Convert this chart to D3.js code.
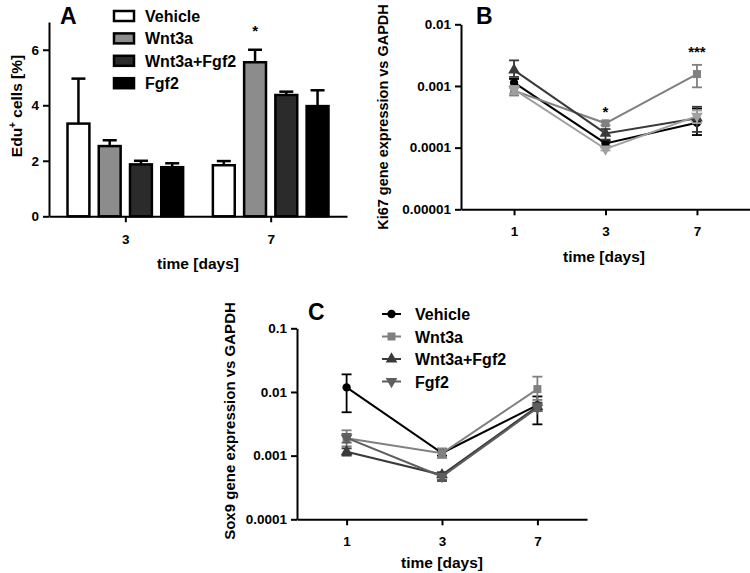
<!DOCTYPE html>
<html><head><meta charset="utf-8">
<script src="https://cdn.jsdelivr.net/npm/d3@7"></script>
<style>body{margin:0;background:#fff}svg{display:block;font-family:"Liberation Sans",Arial,sans-serif;font-weight:bold}</style>
</head><body><svg id="c" width="750" height="573"></svg>
<script>
// ---------- data ----------
const series = ["Vehicle", "Wnt3a", "Wnt3a+Fgf2", "Fgf2"];
const barFill = ["#ffffff", "#8c8c8c", "#2b2b2b", "#000000"];
// Panel A: Edu+ cells [%]
const daysA = ["3", "7"];
const eduMean = [[3.34, 1.84], [2.53, 5.55], [1.87, 4.37], [1.77, 3.97]];
const eduErr  = [[4.96, 1.99], [2.74, 6.0], [2.0, 4.49], [1.91, 4.54]];
const ticksA = [0, 2, 4, 6];
// Panels B & C
const daysBC = ["1", "3", "7"];
const ki67Mean = [[0.00113, 0.000117, 0.000254], [0.00084, 0.000248, 0.00156], [0.00181, 0.00017, 0.0003], [0.00088, 0.000095, 0.000325]];
const ki67Low  = [[0.00095, 0.000105, 0.00016], [0.0007, 0.00023, 0.00095], [0.0014, 0.000135, 0.00018], [0.00075, 0.00009, 0.00025]];
const ki67High = [[0.0013, 0.00013, 0.00043], [0.00095, 0.00027, 0.0022], [0.0026, 0.0002, 0.00046], [0.001, 0.0001, 0.0004]];
const ticksB = [1e-5, 1e-4, 1e-3, 1e-2];
const tickLabelsB = ["0.00001", "0.0001", "0.001", "0.01"];
const sox9Mean = [[0.0118, 0.0011, 0.0062], [0.00187, 0.00109, 0.0111], [0.00115, 0.0005, 0.0059], [0.0019, 0.00047, 0.0056]];
const sox9Low  = [[0.0048, 0.001, 0.0031], [0.0014, 0.00092, 0.0075], [0.001, 0.0004, 0.005], [0.0016, 0.00042, 0.005]];
const sox9High = [[0.0189, 0.0012, 0.0085], [0.0025, 0.0013, 0.0174], [0.0013, 0.00055, 0.0068], [0.0022, 0.00052, 0.0065]];
const ticksC = [1e-4, 1e-3, 1e-2, 1e-1];
const tickLabelsC = ["0.0001", "0.001", "0.01", "0.1"];
const lineColB = ["#000000", "#808080", "#3a3a3a", "#a0a0a0"];
const lineColC = ["#000000", "#808080", "#3a3a3a", "#5e5e5e"];
const symbols = [d3.symbolCircle, d3.symbolSquare, d3.symbolTriangle, d3.symbolTriangle];
const symRot = [0, 0, 0, 180];
const symSize = [55, 64, 60, 60];

const svg = d3.select("#c");
svg.append("rect").attr("width", 750).attr("height", 573).attr("fill", "#fff");

function styleAxis(g, fs) {
  g.selectAll("path,line").attr("stroke", "#000").attr("stroke-width", 2);
  g.selectAll("text").attr("font-size", fs).attr("font-weight", "bold")
   .attr("font-family", '"Liberation Sans",Arial,sans-serif').attr("fill", "#000");
}

// ---------- Panel A ----------
{
  const x = d3.scalePoint().domain(daysA).range([49, 347]).padding(0.525);
  const inner = d3.scaleBand().domain(series).range([-62.5, 62.5]).paddingInner(0.3).paddingOuter(0.15);
  const y = d3.scaleLinear().domain([0, 7]).range([216.3, 22]);
  const ga = svg.append("g").attr("transform", "translate(49,0)")
    .call(d3.axisLeft(y).tickValues(ticksA).tickFormat(d3.format("d")).tickSize(6).tickSizeOuter(0).tickPadding(4));
  styleAxis(ga, 13.5);
  const gx = svg.append("g").attr("transform", "translate(0,216.3)")
    .call(d3.axisBottom(x).tickSize(6).tickSizeOuter(0).tickPadding(12));
  styleAxis(gx, 13.5);

  series.forEach((s, si) => {
    daysA.forEach((d, di) => {
      const bx = x(d) + inner(s);
      const bw = inner.bandwidth();
      const cx = bx + bw / 2;
      svg.append("line").attr("x1", cx).attr("x2", cx).attr("y1", y(eduMean[si][di])).attr("y2", y(eduErr[si][di]))
        .attr("stroke", "#000").attr("stroke-width", 2.5);
      svg.append("line").attr("x1", cx - 7).attr("x2", cx + 7).attr("y1", y(eduErr[si][di])).attr("y2", y(eduErr[si][di]))
        .attr("stroke", "#000").attr("stroke-width", 2.5);
      svg.append("rect").attr("x", bx).attr("y", y(eduMean[si][di])).attr("width", bw)
        .attr("height", y(0) - y(eduMean[si][di])).attr("fill", barFill[si]).attr("stroke", "#000").attr("stroke-width", 2.5);
    });
  });
  svg.append("text").attr("x", x("7") + inner("Wnt3a") + inner.bandwidth() / 2).attr("y", 36)
    .attr("text-anchor", "middle").attr("font-size", 15).text("*");
  svg.append("text").attr("x", 198).attr("y", 269).attr("text-anchor", "middle").attr("font-size", 15.5).text("time [days]");
  const yl = svg.append("text").attr("transform", "translate(22,106) rotate(-90)").attr("text-anchor", "middle").attr("font-size", 15.5);
  yl.append("tspan").text("Edu");
  yl.append("tspan").attr("dy", -6).attr("font-size", 10).text("+");
  yl.append("tspan").attr("dy", 6).text(" cells [%]");
  svg.append("text").attr("x", 60).attr("y", 24).attr("font-size", 23).text("A");
  // legend
  series.forEach((s, i) => {
    const ly = 16 + i * 22.4;
    svg.append("rect").attr("x", 114).attr("y", ly - 5).attr("width", 20).attr("height", 10)
      .attr("fill", barFill[i]).attr("stroke", "#000").attr("stroke-width", 2.5);
    svg.append("text").attr("x", 145).attr("y", ly + 6).attr("font-size", 16).text(s);
  });
}

function linePanel(opts) {
  const { x, y, mean, low, high, cols, tickVals, tickLabs, axisX0, axisY0 } = opts;
  const gy = svg.append("g").attr("transform", `translate(${axisX0},0)`)
    .call(d3.axisLeft(y).tickValues(tickVals).tickFormat((d, i) => tickLabs[i]).tickSize(6).tickSizeOuter(0).tickPadding(4));
  styleAxis(gy, 13.5);
  const gx = svg.append("g").attr("transform", `translate(0,${axisY0})`)
    .call(d3.axisBottom(x).tickSize(6).tickSizeOuter(0).tickPadding(11));
  styleAxis(gx, 13.5);
  const line = d3.line().x((d, i) => x(daysBC[i])).y(d => y(d));
  series.forEach((s, si) => {
    svg.append("path").datum(mean[si]).attr("d", line).attr("fill", "none").attr("stroke", cols[si]).attr("stroke-width", 2);
    daysBC.forEach((d, di) => {
      const cx = x(d);
      const lo = y(low[si][di]), hi = y(high[si][di]);
      svg.append("line").attr("x1", cx).attr("x2", cx).attr("y1", lo).attr("y2", hi).attr("stroke", cols[si]).attr("stroke-width", 1.8);
      [lo, hi].forEach(v => svg.append("line").attr("x1", cx - 5).attr("x2", cx + 5).attr("y1", v).attr("y2", v)
        .attr("stroke", cols[si]).attr("stroke-width", 1.8));
      svg.append("path").attr("d", d3.symbol(symbols[si], symSize[si])())
        .attr("transform", `translate(${cx},${y(mean[si][di])}) rotate(${symRot[si]})`).attr("fill", cols[si]);
    });
  });
}

// ---------- Panel B ----------
{
  const x = d3.scalePoint().domain(daysBC).range([461, 750]).padding(0.58);
  const y = d3.scaleLog().domain([1e-5, 1e-2]).range([209.3, 24.3]);
  linePanel({ x, y, mean: ki67Mean, low: ki67Low, high: ki67High, cols: lineColB, tickVals: ticksB, tickLabs: tickLabelsB, axisX0: 461, axisY0: 209.3 });
  svg.append("text").attr("x", x("3")).attr("y", 117).attr("text-anchor", "middle").attr("font-size", 15).text("*");
  svg.append("text").attr("x", x("7")).attr("y", 57).attr("text-anchor", "middle").attr("font-size", 15).text("***");
  svg.append("text").attr("x", 604).attr("y", 262).attr("text-anchor", "middle").attr("font-size", 15.5).text("time [days]");
  svg.append("text").attr("transform", "translate(388,117) rotate(-90)").attr("text-anchor", "middle").attr("font-size", 14.5).text("Ki67 gene expression vs GAPDH");
  svg.append("text").attr("x", 476).attr("y", 24).attr("font-size", 23).text("B");
}

// ---------- Panel C ----------
{
  const x = d3.scalePoint().domain(daysBC).range([297, 587]).padding(0.52);
  const y = d3.scaleLog().domain([1e-4, 1e-1]).range([519.3, 328.3]);
  linePanel({ x, y, mean: sox9Mean, low: sox9Low, high: sox9High, cols: lineColC, tickVals: ticksC, tickLabs: tickLabelsC, axisX0: 297, axisY0: 519.3 });
  svg.append("text").attr("x", 442).attr("y", 568).attr("text-anchor", "middle").attr("font-size", 15.5).text("time [days]");
  svg.append("text").attr("transform", "translate(235,421) rotate(-90)").attr("text-anchor", "middle").attr("font-size", 15).text("Sox9 gene expression vs GAPDH");
  svg.append("text").attr("x", 308).attr("y", 320).attr("font-size", 23).text("C");
  series.forEach((s, i) => {
    const ly = 314 + i * 22.5;
    svg.append("line").attr("x1", 382).attr("x2", 401).attr("y1", ly).attr("y2", ly).attr("stroke", lineColC[i]).attr("stroke-width", 2);
    svg.append("path").attr("d", d3.symbol(symbols[i], symSize[i])())
      .attr("transform", `translate(391.5,${ly}) rotate(${symRot[i]})`).attr("fill", lineColC[i]);
    svg.append("text").attr("x", 415).attr("y", ly + 6).attr("font-size", 16).text(s);
  });
}
</script></body></html>
